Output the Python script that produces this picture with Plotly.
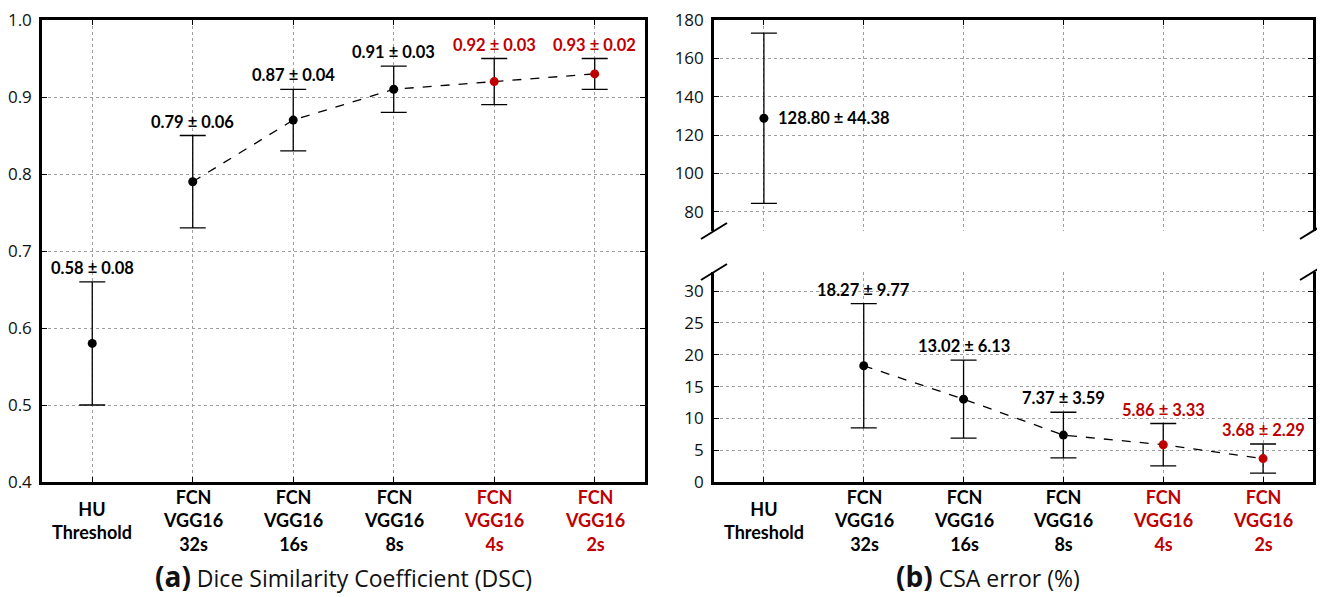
import plotly.graph_objects as go

categories = ["HU<br>Threshold", "FCN<br>VGG16<br>32s", "FCN<br>VGG16<br>16s",
              "FCN<br>VGG16<br>8s", "FCN<br>VGG16<br>4s", "FCN<br>VGG16<br>2s"]
dsc_mean = [0.58, 0.79, 0.87, 0.91, 0.92, 0.93]
dsc_sd = [0.08, 0.06, 0.04, 0.03, 0.03, 0.02]
csa_mean = [128.80, 18.27, 13.02, 7.37, 5.86, 3.68]
csa_sd = [44.38, 9.77, 6.13, 3.59, 3.33, 2.29]
highlight = [False, False, False, False, True, True]

BLACK = "#000000"
RED = "#c00000"
colors = [RED if h else BLACK for h in highlight]
xs = list(range(len(categories)))

fig = go.Figure()

# ---------- (a) DSC ----------
fig.add_trace(go.Scatter(x=xs[1:], y=dsc_mean[1:], mode="lines",
                         line=dict(color=BLACK, width=1.3, dash="dash"),
                         xaxis="x", yaxis="y", showlegend=False, hoverinfo="skip"))
fig.add_trace(go.Scatter(x=xs, y=dsc_mean, mode="markers",
                         marker=dict(color=colors, size=9),
                         error_y=dict(type="data", array=dsc_sd, visible=True,
                                      color=BLACK, thickness=1.3, width=13),
                         xaxis="x", yaxis="y", showlegend=False))

# ---------- (b) CSA top (HU) ----------
fig.add_trace(go.Scatter(x=xs[:1], y=csa_mean[:1], mode="markers",
                         marker=dict(color=colors[:1], size=9),
                         error_y=dict(type="data", array=csa_sd[:1], visible=True,
                                      color=BLACK, thickness=1.3, width=13),
                         xaxis="x2", yaxis="y2", showlegend=False))
# ---------- (b) CSA bottom ----------
fig.add_trace(go.Scatter(x=xs[1:], y=csa_mean[1:], mode="lines",
                         line=dict(color=BLACK, width=1.3, dash="dash"),
                         xaxis="x3", yaxis="y3", showlegend=False, hoverinfo="skip"))
fig.add_trace(go.Scatter(x=xs[1:], y=csa_mean[1:], mode="markers",
                         marker=dict(color=colors[1:], size=9),
                         error_y=dict(type="data", array=csa_sd[1:], visible=True,
                                      color=BLACK, thickness=1.3, width=13),
                         xaxis="x3", yaxis="y3", showlegend=False))

TICKFONT = dict(family="Open Sans", size=17, color="#111111")
grid = dict(showgrid=True, gridcolor="#a0a0a0", gridwidth=1, griddash="dot")
axline = dict(showline=True, linecolor=BLACK, linewidth=2.5, ticks="inside",
              ticklen=5, tickcolor=BLACK, tickwidth=1.2, automargin=False)

LEFT_DOM = [0.0, 0.4744]
RIGHT_DOM = [0.5287, 1.0]
TOP_DOM = [0.5433, 1.0]
BOT_DOM = [0.0, 0.4545]

# page body has an 8px default margin, so the figure is sized/offset to compensate
fig.update_layout(
    width=1317, height=589,
    margin=dict(l=34, r=12, t=12, b=115),
    paper_bgcolor="white", plot_bgcolor="white",
    xaxis=dict(domain=LEFT_DOM, anchor="y", range=[-0.5, 5.5], tickvals=xs,
               showticklabels=False, mirror="ticks", zeroline=False, **grid, **axline),
    yaxis=dict(domain=[0, 1], anchor="x", range=[0.4, 1.0], dtick=0.1, tick0=0.4,
               tickformat=".1f", tickfont=TICKFONT, mirror="ticks", zeroline=False,
               ticklabelstandoff=4, ticklabeloverflow="allow", **grid, **axline),
    xaxis2=dict(domain=RIGHT_DOM, anchor="y2", side="top", range=[-0.5, 5.5], tickvals=xs,
                showticklabels=False, zeroline=False, **grid, **axline),
    yaxis2=dict(domain=TOP_DOM, anchor="x2", range=[70, 180], dtick=20, tick0=0,
                tickfont=TICKFONT, mirror="ticks", zeroline=False,
                ticklabelstandoff=4, ticklabeloverflow="allow", **grid, **axline),
    xaxis3=dict(domain=RIGHT_DOM, anchor="y3", range=[-0.5, 5.5], tickvals=xs,
                showticklabels=False, zeroline=False, **grid, **axline),
    yaxis3=dict(domain=BOT_DOM, anchor="x3", range=[0, 33], dtick=5, tick0=0,
                tickfont=TICKFONT, mirror="ticks", zeroline=False,
                ticklabelstandoff=4, ticklabeloverflow="allow", **grid, **axline),
)

LABFONT = "Lato"
annotations = []
# value labels (a)
for i, (m, s) in enumerate(zip(dsc_mean, dsc_sd)):
    annotations.append(dict(x=xs[i], y=m + s, xref="x", yref="y",
                            text=f"<b>{m:.2f} ± {s:.2f}</b>", showarrow=False,
                            yanchor="bottom", yshift=2,
                            font=dict(family=LABFONT, size=16.5, color=colors[i])))
# value labels (b)
annotations.append(dict(x=xs[0], y=csa_mean[0], xref="x2", yref="y2",
                        text=f"<b>{csa_mean[0]:.2f} ± {csa_sd[0]:.2f}</b>", showarrow=False,
                        xanchor="left", yanchor="middle", xshift=12,
                        font=dict(family=LABFONT, size=16.5, color=colors[0])))
for i in range(1, len(xs)):
    annotations.append(dict(x=xs[i], y=csa_mean[i] + csa_sd[i], xref="x3", yref="y3",
                            text=f"<b>{csa_mean[i]:.2f} ± {csa_sd[i]:.2f}</b>", showarrow=False,
                            yanchor="bottom", yshift=2,
                            font=dict(family=LABFONT, size=16.5, color=colors[i])))
# category labels
for xr in ["x", "x3"]:
    for i, c in enumerate(categories):
        annotations.append(dict(x=xs[i], y=-0.083, xref=xr, yref="paper",
                                text=f"<b>{c}</b>", showarrow=False,
                                yanchor="middle", xanchor="center",
                                font=dict(family=LABFONT, size=18, color=colors[i])))
# panel titles
annotations.append(dict(x=0.237, y=-0.203, xref="paper", yref="paper", showarrow=False,
                        xanchor="center", yanchor="middle",
                        text="<b><span style='font-size:28px'>(a)</span></b> Dice Similarity Coefficient (DSC)",
                        font=dict(family="Open Sans", size=23, color="#111111")))
annotations.append(dict(x=0.744, y=-0.203, xref="paper", yref="paper", showarrow=False,
                        xanchor="center", yanchor="middle",
                        text="<b><span style='font-size:28px'>(b)</span></b> CSA error (%)",
                        font=dict(family="Open Sans", size=23, color="#111111")))
fig.update_layout(annotations=annotations)

# broken-axis diagonal marks
dx, dy = 13 / 1271, 8 / 462
shapes = []
for xc in RIGHT_DOM:
    for yc in [TOP_DOM[0], BOT_DOM[1]]:
        shapes.append(dict(type="line", xref="paper", yref="paper",
                           x0=xc - dx, y0=yc - dy, x1=xc + dx, y1=yc + dy,
                           line=dict(color=BLACK, width=2)))
fig.update_layout(shapes=shapes)

fig.write_html("out.html")
